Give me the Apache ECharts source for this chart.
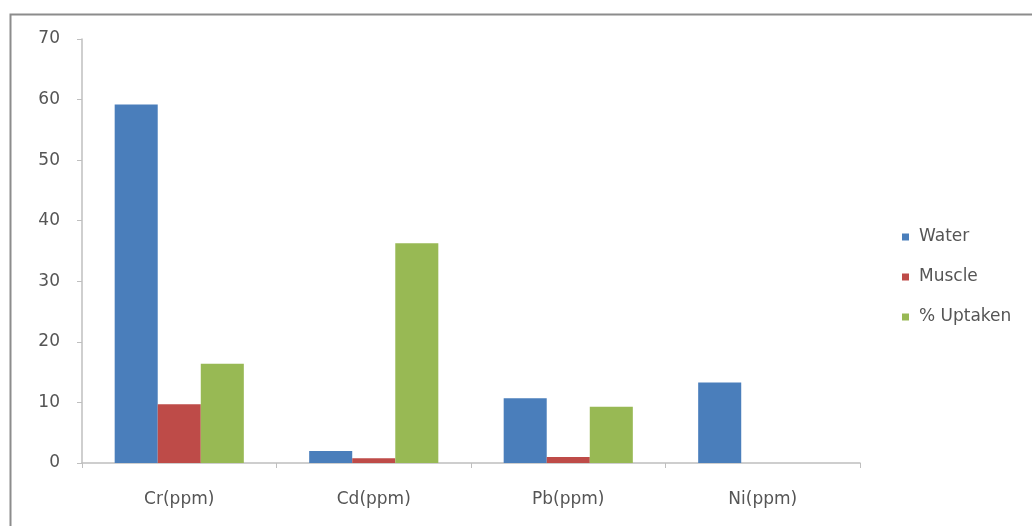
<!DOCTYPE html>
<html><head><meta charset="utf-8">
<script src="https://cdn.jsdelivr.net/npm/echarts@6/dist/echarts.min.js"></script>
<style>html,body{margin:0;padding:0;background:#fff;}#c{width:1032px;height:526px;}</style>
</head><body><div id="c"></div>
<script>
const categories = ['Cr(ppm)', 'Cd(ppm)', 'Pb(ppm)', 'Ni(ppm)'];
const water = [59.2, 2.0, 10.7, 13.3];
const muscle = [9.7, 0.8, 1.0, 0];
const uptaken = [16.4, 36.3, 9.3, 0];
const seriesNames = ['Water', 'Muscle', '% Uptaken'];
const yTicks = { min: 0, max: 70, interval: 10 };

const chart = echarts.init(document.getElementById('c'));
const font = 'DejaVu Sans';
chart.setOption({
  animation: false,
  backgroundColor: '#fff',
  graphic: [{
    type: 'rect', left: 8, top: 12, shape: { x: 0, y: 0, width: 1100, height: 600 },
    style: { fill: 'none', stroke: '#8c8c8c', lineWidth: 2 }, silent: true, z: -1
  }],
  grid: { left: 82, right: 172, top: 39, bottom: 63 },
  legend: {
    orient: 'vertical', left: 897, top: 222,
    itemWidth: 7, itemHeight: 7, itemGap: 20,
    icon: 'rect',
    textStyle: { fontFamily: font, fontSize: 17, color: '#555555', padding: [0, 0, 0, 5], lineHeight: 20 },
    data: seriesNames
  },
  xAxis: {
    type: 'category', data: categories,
    axisLine: { lineStyle: { color: '#bfbfbf', width: 1.5 } },
    axisTick: { show: true, length: 5, lineStyle: { color: '#bfbfbf' } },
    axisLabel: { fontFamily: font, fontSize: 17, color: '#555555', margin: 28 }
  },
  yAxis: {
    type: 'value', min: yTicks.min, max: yTicks.max, interval: yTicks.interval,
    splitLine: { show: false },
    axisLine: { show: true, lineStyle: { color: '#bfbfbf', width: 1.5 } },
    axisTick: { show: true, length: 5, lineStyle: { color: '#bfbfbf' } },
    axisLabel: { fontFamily: font, fontSize: 17, color: '#555555', margin: 22 }
  },
  series: [
    { name: seriesNames[0], type: 'bar', data: water, itemStyle: { color: '#4a7ebb' }, barGap: '0%', barCategoryGap: '33.6%' },
    { name: seriesNames[1], type: 'bar', data: muscle, itemStyle: { color: '#be4b48' } },
    { name: seriesNames[2], type: 'bar', data: uptaken, itemStyle: { color: '#98b954' } }
  ]
});
</script></body></html>
